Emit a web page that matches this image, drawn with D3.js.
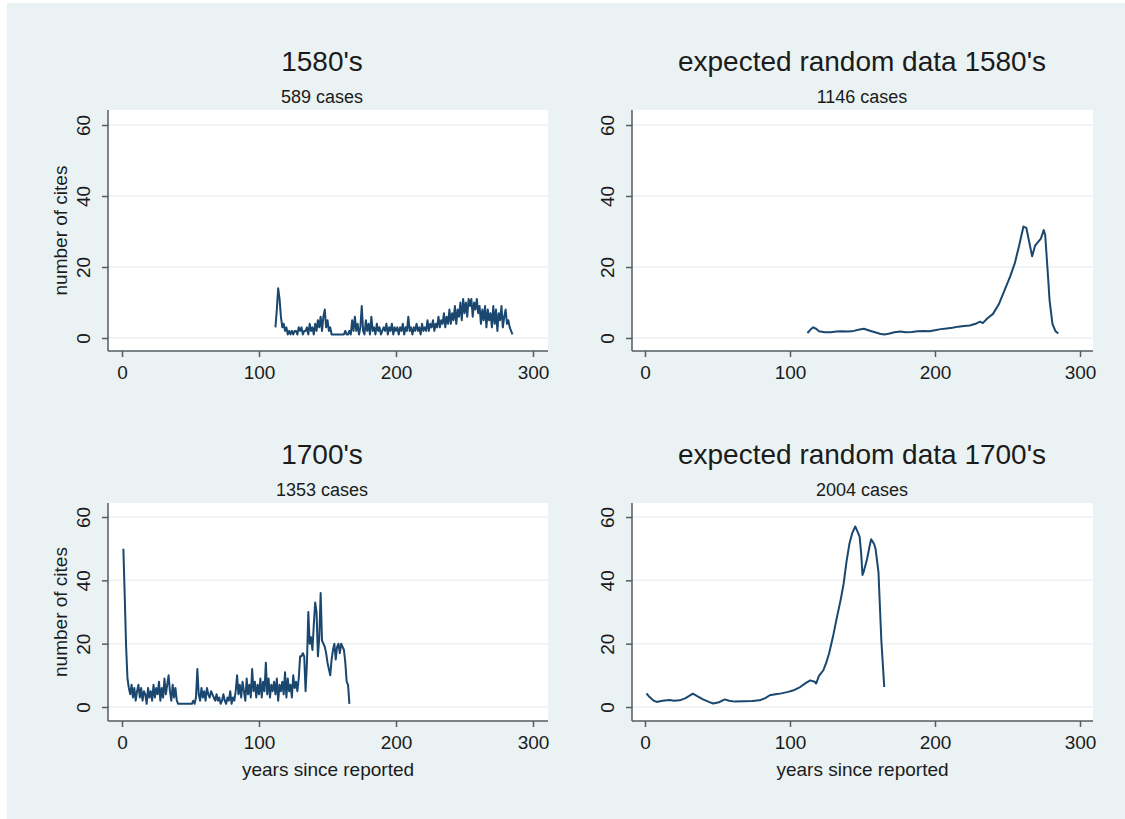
<!DOCTYPE html>
<html>
<head>
<meta charset="utf-8">
<script src="https://cdn.jsdelivr.net/npm/d3@7"></script>
<style>
body{margin:0;background:#fff;}
svg text{font-family:"Liberation Sans",Arial,sans-serif;fill:#1b1b1b;}
</style>
</head>
<body>
<script>
// panel texts
var titles = ["1580's", "expected random data 1580's", "1700's", "expected random data 1700's"];
var subtitles = ["589 cases", "1146 cases", "1353 cases", "2004 cases"];
var xTicks = [0, 100, 200, 300];
var yTicks = [0, 20, 40, 60];
var yTitle = "number of cites";
var xTitle = "years since reported";

// observed 1580's, one value per year starting at year 112
var obs1580Start = 112;
var obs1580 = [
  3, 8, 14, 11, 6, 3, 4, 2, 3, 1,
  2, 1, 2, 1, 2, 2, 1, 3, 2, 3,
  1, 2, 2, 3, 1, 4, 2, 3, 1, 4,
  2, 5, 3, 6, 2, 6, 8, 3, 5, 2,
  3, 1, 1, 1, 1, 1, 1, 1, 1, 1,
  1, 2, 1, 1, 2, 1, 5, 2, 6, 2,
  4, 1, 3, 9, 2, 1, 5, 2, 4, 1,
  6, 2, 3, 1, 4, 2, 3, 1, 2, 3,
  2, 4, 1, 3, 2, 4, 1, 3, 2, 3,
  1, 3, 2, 4, 1, 3, 2, 6, 2, 3,
  1, 3, 2, 4, 2, 3, 1, 4, 2, 3,
  2, 5, 2, 4, 3, 5, 2, 4, 3, 6,
  3, 5, 4, 7, 3, 6, 4, 8, 4, 7,
  5, 9, 4, 8, 6, 10, 5, 11, 7, 10,
  6, 11, 9, 11, 6, 10, 8, 11, 7, 9,
  4, 8, 5, 9, 3, 8, 5, 7, 3, 9,
  4, 8, 2, 7, 5, 9, 3, 6, 8, 4,
  5, 3, 2, 1
];

// expected random 1580's (year, value)
var exp1580 = [
  [112,1.4],[114,2.3],[116,3.0],[118,2.6],[120,1.9],[124,1.6],[128,1.6],[132,1.8],[136,1.9],[140,1.8],
  [144,2.0],[148,2.4],[151,2.6],[154,2.2],[158,1.7],[162,1.2],[165,1.0],[168,1.2],[172,1.6],[176,1.8],
  [180,1.6],[184,1.7],[188,1.9],[192,2.0],[196,1.9],[200,2.2],[204,2.5],[208,2.7],[212,2.9],[216,3.2],
  [220,3.4],[224,3.5],[228,4.0],[231,4.6],[233,4.2],[236,5.5],[240,6.8],[244,9.5],[248,13.5],[252,17.5],
  [255,21],[258,26],[261,31.4],[263,31],[265,27],[267,23],[269,26],[271,27],[273,28],[275,30.4],
  [276,29],[278,17],[279,10.7],[281,4],[283,2],[285,1.3]
];

// observed 1700's, one value per year starting at year 1
var obs1700Start = 1;
var obs1700 = [
  50, 35, 19, 9, 6, 4, 7, 3, 6, 2,
  5, 7, 3, 6, 2, 5, 4, 1, 6, 3,
  5, 2, 7, 3, 6, 4, 8, 2, 6, 3,
  9, 4, 7, 10, 5, 2, 7, 3, 6, 2,
  1, 1, 1, 1, 1, 1, 1, 1, 1, 1,
  1, 2, 1, 3, 12, 4, 2, 6, 3, 5,
  2, 6, 4, 3, 5, 4, 3, 2, 4, 2,
  3, 1, 2, 4, 2, 1, 3, 2, 5, 1,
  3, 2, 5, 10, 4, 7, 3, 8, 5, 2,
  9, 4, 7, 3, 12, 5, 8, 3, 7, 4,
  9, 3, 8, 5, 14, 4, 9, 3, 7, 5,
  8, 4, 9, 2, 7, 5, 8, 4, 11, 3,
  9, 5, 7, 3, 10, 6, 8, 5, 9, 16,
  16, 17, 16, 5, 14, 30, 20, 22, 18, 26,
  33, 30, 16, 22, 36, 21, 20, 19, 17, 14,
  12, 10, 15, 18, 20, 15, 19, 20, 17, 20,
  19, 18, 14, 8, 7, 1
];

// expected random 1700's (year, value)
var exp1700 = [
  [1,4.3],[3,3.2],[6,2.0],[8,1.6],[12,2.0],[17,2.2],[20,2.0],[24,2.1],[28,2.8],[33,4.2],
  [36,3.4],[40,2.4],[44,1.6],[47,1.1],[51,1.5],[55,2.4],[58,2.0],[62,1.7],[68,1.8],[74,1.9],
  [79,2.1],[83,2.8],[86,3.7],[90,4.0],[94,4.3],[98,4.7],[102,5.2],[107,6.3],[111,7.6],[114,8.4],
  [117,8.0],[118,7.4],[120,9.8],[123,11.6],[125,14],[127,17],[130,23],[132,27.5],[135,34],[137,39],
  [139,46],[141,51.6],[143,55],[145,57],[146,56],[148,53.8],[149,49],[150,41.7],[151,43],[153,46.4],
  [155,51],[156,53],[158,51.5],[159,50],[161,42.7],[163,21],[165,6.3]
];

function byYear(start, values) {
  return values.map(function(v, i) { return [start + i, v]; });
}

var W = 1125, H = 819;
var bg = "#eaf2f3";
var lineColor = "#1a476f";
var axisColor = "#555b60";

// layout of the four panels
var panels = [
  {x0:108, x1:548, y0:110, y1:351, xr:[122,533], yr:[338,125], tx:322, ty:71, showY:true, showX:false, data:byYear(obs1580Start, obs1580)},
  {x0:632, x1:1093, y0:110, y1:351, xr:[645,1080], yr:[338,125], tx:862, ty:71, showY:false, showX:false, data:exp1580},
  {x0:108, x1:548, y0:503, y1:721, xr:[122,533], yr:[707,517], tx:322, ty:464, showY:true, showX:true, data:byYear(obs1700Start, obs1700)},
  {x0:632, x1:1093, y0:503, y1:721, xr:[645,1080], yr:[707,517], tx:862, ty:464, showY:false, showX:true, data:exp1700}
];

var svg = d3.select("body").append("svg")
  .attr("width", W)
  .attr("height", H);

svg.append("rect")
  .attr("x", 7).attr("y", 3)
  .attr("width", W - 7).attr("height", H - 3)
  .attr("fill", bg);

panels.forEach(function(p, i) {
  var x = d3.scaleLinear().domain([0, 300]).range(p.xr);
  var y = d3.scaleLinear().domain([0, 60]).range(p.yr);
  var g = svg.append("g");

  // plot region
  g.append("rect")
    .attr("x", p.x0).attr("y", p.y0)
    .attr("width", p.x1 - p.x0).attr("height", p.y1 - p.y0)
    .attr("fill", "#fff");

  // gridlines
  g.selectAll("line.grid")
    .data(yTicks)
    .enter().append("line")
    .attr("class", "grid")
    .attr("x1", p.x0).attr("x2", p.x1)
    .attr("y1", function(d) { return y(d); })
    .attr("y2", function(d) { return y(d); })
    .attr("stroke", bg)
    .attr("stroke-width", 1.5);

  // the series
  g.append("path")
    .datum(p.data)
    .attr("fill", "none")
    .attr("stroke", lineColor)
    .attr("stroke-width", 2)
    .attr("stroke-linejoin", "round")
    .attr("d", d3.line()
      .x(function(d) { return x(d[0]); })
      .y(function(d) { return y(d[1]); }));

  // x axis
  var xa = g.append("g")
    .attr("transform", "translate(0," + p.y1 + ")")
    .call(d3.axisBottom(x).tickValues(xTicks).tickSize(6).tickPadding(9).tickSizeOuter(0));
  xa.select(".domain").remove();
  xa.selectAll("line").attr("stroke", axisColor).attr("stroke-width", 1.5);
  xa.selectAll("text").style("font-size", "19px").attr("fill", "#1b1b1b");

  // y axis
  var ya = g.append("g")
    .attr("transform", "translate(" + p.x0 + ",0)")
    .call(d3.axisLeft(y).tickValues(yTicks).tickSize(6).tickSizeOuter(0));
  ya.select(".domain").remove();
  ya.selectAll("line").attr("stroke", axisColor).attr("stroke-width", 1.5);
  ya.selectAll("text")
    .attr("x", 0).attr("dy", 0)
    .attr("text-anchor", "middle")
    .attr("transform", "translate(-18,0) rotate(-90)")
    .style("font-size", "19px")
    .attr("fill", "#1b1b1b");

  // axis lines
  g.append("line")
    .attr("x1", p.x0).attr("x2", p.x1)
    .attr("y1", p.y1).attr("y2", p.y1)
    .attr("stroke", axisColor).attr("stroke-width", 1.5);
  g.append("line")
    .attr("x1", p.x0).attr("x2", p.x0)
    .attr("y1", p.y0).attr("y2", p.y1)
    .attr("stroke", axisColor).attr("stroke-width", 1.5);

  // titles
  g.append("text")
    .attr("x", p.tx).attr("y", p.ty)
    .attr("text-anchor", "middle")
    .style("font-size", "28px")
    .text(titles[i]);
  g.append("text")
    .attr("x", p.tx).attr("y", p.ty + 32)
    .attr("text-anchor", "middle")
    .style("font-size", "18px")
    .text(subtitles[i]);

  if (p.showY) {
    g.append("text")
      .attr("transform", "translate(67," + ((p.y0 + p.y1) / 2) + ") rotate(-90)")
      .attr("text-anchor", "middle")
      .style("font-size", "19px")
      .text(yTitle);
  }
  if (p.showX) {
    g.append("text")
      .attr("x", (p.x0 + p.x1) / 2).attr("y", p.y1 + 55)
      .attr("text-anchor", "middle")
      .style("font-size", "19px")
      .text(xTitle);
  }
});
</script>
</body>
</html>
